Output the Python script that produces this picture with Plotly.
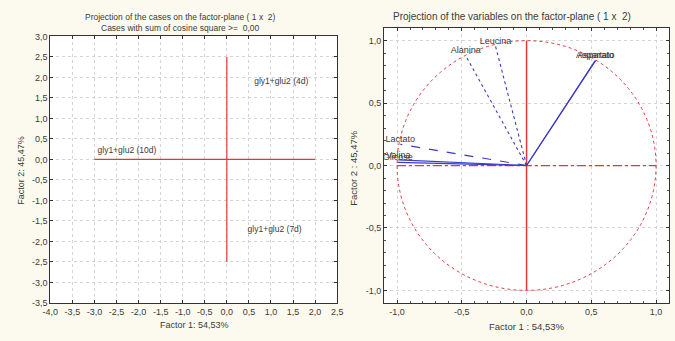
import plotly.graph_objects as go

# ---------------- data ----------------
case_labels = ["gly1+glu2 (4d)", "gly1+glu2 (10d)", "gly1+glu2 (7d)"]
case_x = [0.62, -2.93, 0.47]
case_y = [1.90, 0.22, -1.73]

# red reference lines in the case plot
hline_x = [-3.0, 2.0]
hline_y = [0.0, 0.0]
vline_x = [0.0, 0.0]
vline_y = [-2.5, 2.5]

var_labels = ["Aspartato", "Asparato", "Alanina", "Leucina", "Lactato", "Valina", "Glicose"]
var_x = [0.530, 0.534, -0.47, -0.24, -0.975, -0.99, -0.995]
var_y = [0.840, 0.842, 0.88, 0.956, 0.17, 0.045, 0.025]
var_dash = ["solid", "solid", "dot", "dot", "dash", "solid", "solid"]

left_xticks = [-4.0, -3.5, -3.0, -2.5, -2.0, -1.5, -1.0, -0.5, 0.0, 0.5, 1.0, 1.5, 2.0, 2.5]
left_yticks = [3.0, 2.5, 2.0, 1.5, 1.0, 0.5, 0.0, -0.5, -1.0, -1.5, -2.0, -2.5, -3.0, -3.5]
right_ticks = [-1.0, -0.5, 0.0, 0.5, 1.0]


def fmt(v):
    return ("%.1f" % v).replace(".", ",")


FONT = "Liberation Sans, Arial, sans-serif"
TXT = "#3a3a3a"
RED = "#e0383a"
BLUE = "#3a3ac8"

fig = go.Figure()

# ---- left plot ----
fig.add_trace(go.Scatter(x=hline_x, y=hline_y, mode="lines", line=dict(color=RED, width=1.2),
                         xaxis="x", yaxis="y", hoverinfo="skip"))
fig.add_trace(go.Scatter(x=vline_x, y=vline_y, mode="lines", line=dict(color=RED, width=1.2),
                         xaxis="x", yaxis="y", hoverinfo="skip"))
fig.add_trace(go.Scatter(x=case_x, y=case_y, mode="text", text=case_labels,
                         textposition="middle right", textfont=dict(size=8.5, color=TXT, family=FONT),
                         xaxis="x", yaxis="y"))

# ---- right plot ----
fig.add_trace(go.Scatter(x=[-1.0, 1.0], y=[0, 0], mode="lines", line=dict(color=RED, width=1.2, dash="dashdot"),
                         xaxis="x2", yaxis="y2", hoverinfo="skip"))
fig.add_trace(go.Scatter(x=[0, 0], y=[-1.0, 1.0], mode="lines", line=dict(color=RED, width=1.5),
                         xaxis="x2", yaxis="y2", hoverinfo="skip"))
for vx, vy, d in zip(var_x, var_y, var_dash):
    fig.add_trace(go.Scatter(x=[0, vx], y=[0, vy], mode="lines", line=dict(color=BLUE, width=1.1, dash=d),
                             xaxis="x2", yaxis="y2", hoverinfo="skip"))
fig.add_trace(go.Scatter(x=var_x, y=var_y, mode="text", text=var_labels, textposition="top center",
                         textfont=dict(size=9, color=TXT, family=FONT), xaxis="x2", yaxis="y2"))

fig.add_shape(type="circle", xref="x2", yref="y2", x0=-1, x1=1, y0=-1, y1=1,
              line=dict(color=RED, width=1, dash="dot"), layer="above")

grid = dict(showgrid=True, gridcolor="#d4d4d4", gridwidth=1, griddash="dot", zeroline=False,
            showline=True, linecolor="#333333", linewidth=1, mirror="ticks",
            ticks="inside", ticklen=3, tickcolor="#333333",
            minor=dict(ticks="inside", ticklen=2, nticks=5, tickcolor="#555555", showgrid=False),
            tickfont=dict(size=9, color=TXT, family=FONT))

fig.update_layout(
    width=675, height=341,
    margin=dict(l=0, r=0, t=0, b=0),
    paper_bgcolor="#fcfaef",
    plot_bgcolor="#ffffff",
    showlegend=False,
    xaxis=dict(domain=[0.064, 0.498], range=[-4.0, 2.5], tickvals=left_xticks,
               ticktext=[fmt(v) for v in left_xticks], anchor="y", **grid),
    yaxis=dict(domain=[0.1, 0.905], range=[-3.5, 3.0], tickvals=left_yticks,
               ticktext=[fmt(v) for v in left_yticks], anchor="x", **grid),
    xaxis2=dict(domain=[0.569, 1.0], range=[-1.1, 1.1], tickvals=right_ticks,
                ticktext=[fmt(v) for v in right_ticks], anchor="y2", **grid),
    yaxis2=dict(domain=[0.1, 0.93], range=[-1.1, 1.1], tickvals=right_ticks,
                ticktext=[fmt(v) for v in right_ticks], anchor="x2", **grid),
)

ann = [
    dict(text="Projection of the cases on the factor-plane ( 1 x  2)", x=176, y=12, size=8.5),
    dict(text="Cases with sum of cosine square >=  0,00", x=176, y=24, size=8.5),
    dict(text="Projection of the variables on the factor-plane ( 1 x  2)", x=515, y=12, size=10),
    dict(text="Factor 1: 54,53%", x=190, y=330, size=9),
    dict(text="Factor 1 : 54,53%", x=530, y=331, size=9.5),
]
for a in ann:
    fig.add_annotation(text=a["text"], x=a["x"] / 675, y=1 - a["y"] / 341, xref="paper", yref="paper",
                       showarrow=False, xanchor="center", yanchor="middle",
                       font=dict(size=a["size"], color=TXT, family=FONT))
fig.add_annotation(text="Factor 2: 45,47%", x=13 / 675, y=1 - 170 / 341, xref="paper", yref="paper",
                   showarrow=False, textangle=-90, xanchor="center", yanchor="middle",
                   font=dict(size=9, color=TXT, family=FONT))
fig.add_annotation(text="Factor 2 : 45,47%", x=352 / 675, y=1 - 168 / 341, xref="paper", yref="paper",
                   showarrow=False, textangle=-90, xanchor="center", yanchor="middle",
                   font=dict(size=9.5, color=TXT, family=FONT))

fig.write_html("out.html")
